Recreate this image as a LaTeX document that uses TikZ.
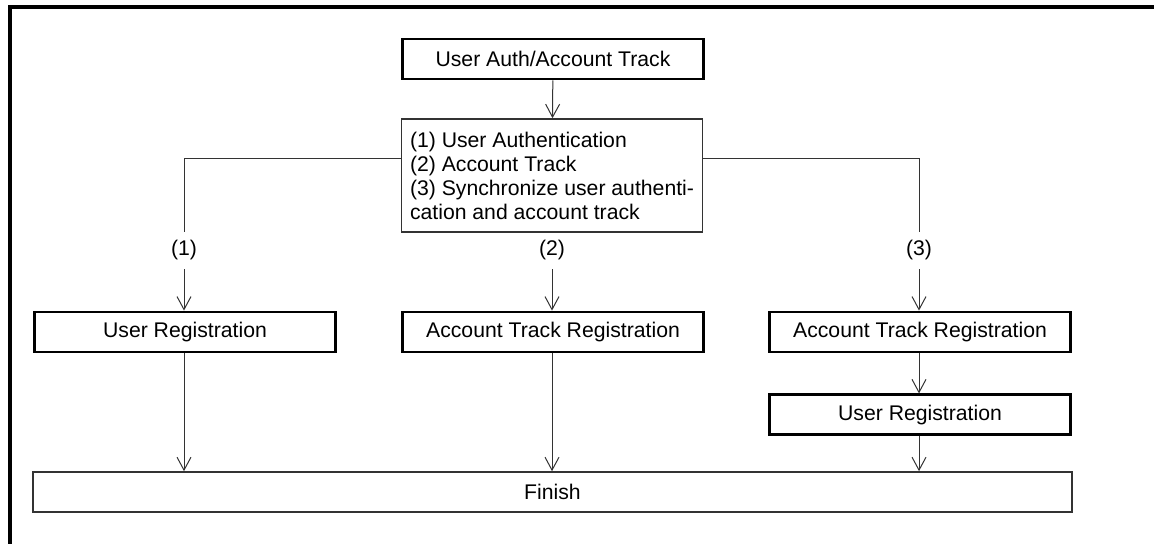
\documentclass[tikz,border=0pt]{standalone}
\usepackage{fontspec}
\setmainfont{Liberation Sans}
\usetikzlibrary{positioning, arrows.meta, calc}

\begin{document}
\begin{tikzpicture}[x=0.5pt, y=-0.5pt,
  every node/.style={font=\fontsize{10.6}{12}\selectfont},
  stepbox/.style={draw, line width=1.4pt, minimum width=150.5pt,
    minimum height=20pt, inner sep=0pt},
  selbox/.style={draw=black!80, line width=0.8pt, minimum width=150.5pt,
    minimum height=56.5pt, align=left},
  branch/.style={inner sep=0pt, minimum height=18.5pt},
  link/.style={draw=black!80, line width=0.5pt},
  arr/.style={link, -{Straight Barb[length=6.5pt,width=7pt]}}]
  \useasboundingbox (0,0) rectangle (1154,544);
  \draw[line width=2pt] (10,544) |- (1154,7);

  % mode selection
  \node[stepbox] (auth) at (553,59) {User Auth/Account Track};
  \node[selbox] (sel) at (552,175.5) {(1) User Authentication\\
    (2) Account Track\\
    (3) Synchronize user authenti-\\
    cation and account track};

  % branches
  \node[branch] (b1) at (184,250.5) {(1)};
  \node[branch] (b2) at (552,250.5) {(2)};
  \node[branch] (b3) at (919,250.5) {(3)};

  \node[stepbox] (ur1) at (185,332) {User Registration};
  \node[stepbox] (atr2) at (553,332) {Account Track Registration};
  \node[stepbox] (atr3) at (920,332) {Account Track Registration};
  \node[stepbox, below=20pt of atr3] (ur3) {User Registration};

  \node[draw=black!80, line width=0.8pt, minimum width=519.5pt,
        minimum height=20pt, inner sep=0pt] (fin) at (552.5,492) {Finish};

  \draw[arr] (auth) -- (sel);
  \draw[link] ([yshift=8.25pt]sel.west) -| (b1);
  \draw[link] (sel) -- (b2);
  \draw[link] ([yshift=8.25pt]sel.east) -| (b3);
  \draw[arr] (b1) -- (b1 |- ur1.north);
  \draw[arr] (b2) -- (b2 |- atr2.north);
  \draw[arr] (b3) -- (b3 |- atr3.north);
  \draw[arr] (atr3.south -| b3) -- (b3 |- ur3.north);
  \draw[arr] (ur1.south -| b1) -- (b1 |- fin.north);
  \draw[arr] (atr2.south -| b2) -- (b2 |- fin.north);
  \draw[arr] (ur3.south -| b3) -- (b3 |- fin.north);
\end{tikzpicture}
\end{document}
